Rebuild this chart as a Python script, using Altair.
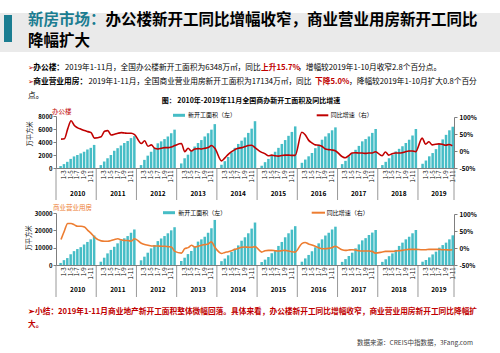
import altair as alt
import pandas as pd

FONT = "Noto Sans CJK SC"
TEAL = "#46BDC6"
RED = "#C00000"
ORANGE = "#ED7D31"
TITLE_TEAL = "#1B7D91"
AXIS_GREY = "#7F7F7F"

years = list(range(2010, 2020))
shown_ticks = ["1-3", "1-5", "1-7", "1-9", "1-11"]

# office new-start area, cumulative (万平方米): 1-2 ... 1-12 per year, 2019 to 1-11
office_area = [
    300, 600, 950, 1400, 1780, 2000, 2250, 2500, 2850, 3100, 3550,      # 2010
    450, 1000, 1500, 2000, 2650, 3050, 3450, 3850, 4150, 4600, 4900,    # 2011
    450, 1250, 1900, 2500, 3050, 3800, 4100, 4450, 4850, 5350, 5900,    # 2012
    700, 1500, 2050, 2600, 3300, 3850, 4300, 4850, 5350, 5900, 6750,    # 2013
    500, 1050, 1700, 2400, 3100, 3700, 4200, 4700, 5400, 6050, 7200,    # 2014
    350, 900, 1400, 1900, 2500, 3100, 3700, 4300, 4950, 5550, 6400,     # 2015
    800, 1300, 1800, 2300, 3050, 3600, 4350, 4850, 5350, 5800, 6250,    # 2016
    600, 1100, 1800, 2300, 2800, 3400, 4100, 4450, 4850, 5400, 6000,    # 2017
    450, 950, 1500, 2050, 2550, 2950, 3350, 3850, 4350, 5000, 6000,     # 2018
    650, 1150, 1800, 2300, 2900, 3700, 4400, 5100, 5800, 6348,          # 2019
]
# office YoY growth (%)
office_pct = [
    35, 36, 65, 89, 75, 68, 64, 60, 57, 54, 38,
    42, 58, 60, 47, 49, 52, 54, 53, 52, 52, 48,
    22, 30, 14, 18, 8, 6, 8, 10, 10, 12, 16,
    22, -2, 8, 0, 6, 7, 6, 8, 10, 16, 8,
    -29, -20, -10, -2, 4, 8, 10, 13, 16, 17, 10,
    -4, -8, -14, -12, -14, -15, -13, -12, -12, -13, -13,
    55, 48, 32, 24, 18, 17, 14, 6, 4, 3, 1,
    -16, -20, -14, -6, -5, -6, -6, -7, -6, -6, -2,
    -14, -3, -12, -8, -6, -6, -5, -2, 0, 0, -2,
    38, 20, 27, 18, 20, 21, 20, 17, 19, 15.7,
]
# commercial (商业营业用房) new-start area, cumulative (万平方米)
commercial_area = [
    1200, 2800, 4000, 6200, 8000, 9200, 10300, 11800, 13300, 14800, 17000,
    1900, 4200, 6700, 8700, 10500, 12500, 14300, 15400, 16700, 18600, 20500,
    2700, 4800, 7100, 9600, 11500, 13800, 15300, 16700, 18300, 20000, 21800,
    2300, 4200, 6300, 8100, 10500, 13500, 14800, 16300, 18600, 21200, 26000,
    2200, 3700, 5600, 7500, 9400, 11300, 14000, 16000, 18300, 21000, 24500,
    1700, 3100, 4600, 6800, 8500, 11000, 13300, 16000, 18300, 20400, 22400,
    1900, 3800, 5800, 8000, 10200, 12500, 14800, 17000, 18600, 20500, 22100,
    1800, 3400, 5200, 7100, 9600, 11900, 14200, 15500, 17300, 18700, 20200,
    1800, 3300, 5100, 6700, 8700, 11000, 12900, 14800, 16300, 18300, 20200,
    1900, 2900, 4400, 6100, 7700, 10000, 11500, 12900, 14800, 17134,
]
# commercial YoY growth (%)
commercial_pct = [
    25, 50, 72, 72, 68, 64, 64, 62, 52, 43, 32,
    21, 20, 20, 22, 25, 27, 24, 22, 22, 20, 27,
    14, 10, 8, 6, 6, 6, 5, 5, 4, 3, -10,
    -15, -2, 1, 8, 3, 5, 8, 10, 12, 18, 2,
    -16, -13, -11, -8, -4, -1, 2, 3, 2, 2, 4,
    -12, -8, -7, -7, -8, -9, -8, -7, -9, -11, -12,
    13, 16, 12, 9, 5, 1, -2, -2, -1, 1, 5,
    -5, -7, -6, -5, -6, -8, -9, -9, -9, -10, -15,
    -12, -10, -10, -10, -9, -8, -7, -5, -4, -4, -4,
    -5, -5, -4, -4, -4, -4, -5, -5, -6, -5.0,
]

# category slots: each year starts with an empty "1-1" slot
slots, data_slots = [], []
for y in years:
    last = 12 if y < 2019 else 11
    for m in range(1, last + 1):
        slots.append(f"{y}|1-{m}")
        if m >= 2:
            data_slots.append(f"{y}|1-{m}")

df = pd.DataFrame({
    "slot": data_slots,
    "idx": list(range(len(data_slots))),
    "office_area": office_area,
    "office_pct": office_pct,
    "commercial_area": commercial_area,
    "commercial_pct": commercial_pct,
})
sep_df = pd.DataFrame({"slot": [f"{y}|1-1" for y in years]})
end_df = pd.DataFrame({"slot": [slots[-1]]})
year_df = pd.DataFrame({"slot": [f"{y}|1-7" for y in years], "year": [str(y) for y in years]})
one = pd.DataFrame({"k": [0]})

L = 56  # plot origin (left padding)


def xs():
    return alt.Scale(domain=slots, paddingInner=0.25, paddingOuter=0)


tick_expr = ("indexof(['1-3','1-5','1-7','1-9','1-11'], split(datum.value,'|')[1]) >= 0"
             " ? split(datum.value,'|')[1] : ''")


def cat_axis(offset):
    return alt.Axis(orient="bottom", offset=offset, labelExpr=tick_expr, labelAngle=270,
                    labelFontSize=6, labelFont=FONT, ticks=False, domainColor=AXIS_GREY,
                    labelPadding=2, title=None, labelOverlap=False, labelColor="#000000",
                    labelBound=False, grid=False)


def left_axis(values):
    return alt.Axis(orient="left", values=values, format="d", title=None, labelFontSize=6,
                    labelFont=FONT, labelFontWeight="bold", grid=False, tickSize=3,
                    domainColor=AXIS_GREY, tickColor=AXIS_GREY, labelPadding=1,
                    labelFlush=False, labelColor="#000000")


def right_axis():
    return alt.Axis(orient="right", values=[-50, 0, 50, 100], labelExpr="datum.value + '%'",
                    title=None, labelFontSize=6.3, labelFont=FONT, labelFontWeight="bold",
                    grid=False, tickSize=3, domainColor=AXIS_GREY, tickColor=AXIS_GREY,
                    labelPadding=2, labelFlush=False, labelColor="#000000")


def txt(s, x, y, size, color="#000000", weight="normal", align="left", angle=0):
    return alt.Chart(one).mark_text(text=s, fontSize=size, font=FONT, color=color,
                                    fontWeight=weight, align=align, baseline="middle",
                                    angle=angle).encode(x=alt.value(x - L), y=alt.value(y))


def box(x1, x2, y1, y2, color):
    return alt.Chart(one).mark_rect(color=color).encode(
        x=alt.value(x1 - L), x2=alt.value(x2 - L), y=alt.value(y1), y2=alt.value(y2))


def seg(x1, x2, y, color, w):
    return alt.Chart(one).mark_rule(color=color, strokeWidth=w).encode(
        x=alt.value(x1 - L), x2=alt.value(x2 - L), y=alt.value(y))


base = alt.Chart(df)

# ---- top chart (office) ----
office_bars = base.mark_bar(color=TEAL).encode(
    x=alt.X("slot:N", scale=xs(), axis=cat_axis(-185)),
    y=alt.Y("office_area:Q", scale=alt.Scale(domain=[0, 8000], range=[168, 116], nice=False),
            axis=left_axis([0, 2000, 4000, 6000, 8000])),
)
office_line = base.mark_line(color=RED, strokeWidth=1.6, interpolate="monotone").encode(
    x=alt.X("slot:N", scale=xs(), axis=None),
    y=alt.Y("office_pct:Q", scale=alt.Scale(domain=[-50, 100], range=[168, 117], nice=False),
            axis=right_axis()),
    order=alt.Order("idx:Q"),
)
# ---- bottom chart (commercial) ----
com_bars = base.mark_bar(color=TEAL).encode(
    x=alt.X("slot:N", scale=xs(), axis=cat_axis(-88)),
    y=alt.Y("commercial_area:Q", scale=alt.Scale(domain=[0, 30000], range=[265, 213], nice=False),
            axis=left_axis([0, 10000, 20000, 30000])),
)
com_line = base.mark_line(color=ORANGE, strokeWidth=1.6, interpolate="monotone").encode(
    x=alt.X("slot:N", scale=xs(), axis=None),
    y=alt.Y("commercial_pct:Q", scale=alt.Scale(domain=[-50, 100], range=[265, 214], nice=False),
            axis=right_axis()),
    order=alt.Order("idx:Q"),
)


def separators(y1, y2):
    a = alt.Chart(sep_df).mark_rule(color=AXIS_GREY, strokeWidth=0.8).encode(
        x=alt.X("slot:N", scale=xs(), axis=None, bandPosition=0),
        y=alt.value(y1), y2=alt.value(y2))
    b = alt.Chart(end_df).mark_rule(color=AXIS_GREY, strokeWidth=0.8).encode(
        x=alt.X("slot:N", scale=xs(), axis=None, bandPosition=1),
        y=alt.value(y1), y2=alt.value(y2))
    return [a, b]


def year_labels(y):
    return alt.Chart(year_df).mark_text(fontSize=6.5, font=FONT, fontWeight="bold",
                                        baseline="middle", align="center", color="#000000").encode(
        x=alt.X("slot:N", scale=xs(), axis=None, bandPosition=0),
        y=alt.value(y), text="year:N")


BF = 7.7  # bullet font size
TF = 15.5  # title font size

layers = [
    box(0, 500, 13, 52, "#EAEAEA"),
    box(4, 12, 15, 42, TITLE_TEAL),
    txt("新房市场：", 28, 20, TF, TITLE_TEAL, "bold"),
    txt("办公楼新开工同比增幅收窄，商业营业用房新开工同比", 28 + 5 * TF, 20, TF, "#000000", "bold"),
    txt("降幅扩大", 28, 41, TF, "#000000", "bold"),
    # bullet 1
    txt("➢", 28, 68, 7, RED),
    txt("办公楼：", 33.3, 68, BF, "#000000", "bold"),
    txt("2019年1-11月，全国办公楼新开工面积为6348万㎡，同比", 65, 68, BF),
    txt("上升15.7%", 261, 68, BF, RED, "bold"),
    txt("，增幅较2019年1-10月收窄2.8个百分点。", 298, 68, BF),
    # bullet 2
    txt("➢", 28, 81.7, 7, RED),
    txt("商业营业用房：", 33.3, 81.7, BF, "#000000", "bold"),
    txt("2019年1-11月，全国商业营业用房新开工面积为17134万㎡，同比", 88.5, 81.7, BF),
    txt("下降5.0%", 315, 81.7, BF, RED, "bold"),
    txt("，降幅较2019年1-10月扩大0.8个百分", 349, 81.7, BF),
    txt("点。", 28, 95.5, BF),
    # chart title
    txt("图： 2010年-2019年11月全国商办新开工面积及同比增速", 251, 100.5, 7, "#000000", "bold", "center"),
    # top legend & labels
    box(173, 185, 113.8, 116.8, TEAL),
    txt("新开工面积（左）", 188, 115.3, 6),
    seg(316.7, 328.3, 115.3, RED, 2),
    txt("同比增速（右）", 330.7, 115.3, 6),
    txt("办公楼", 52, 111.5, 6.5, RED),
    txt("万平方米", 30, 134, 6.3, "#000000", "normal", "center", 270),
    # bottom legend & labels
    box(163, 175, 211.2, 214.2, TEAL),
    txt("新开工面积（左）", 178.3, 212.7, 6),
    seg(311.7, 325, 212.7, ORANGE, 2),
    txt("同比增速（右）", 326.7, 212.7, 6),
    txt("商业营业用房", 53, 207.5, 6.5, ORANGE),
    txt("万平方米", 29, 238, 6.3, "#000000", "normal", "center", 270),
    # charts
    office_bars, office_line, com_bars, com_line,
    *separators(168, 200), *separators(265, 297),
    year_labels(193.5), year_labels(290.3),
    # summary & source
    txt("➢小结：2019年1-11月商业地产新开工面积整体微幅回落。具体来看，办公楼新开工同比增幅收窄，商业营业用房新开工同比降幅扩",
        28, 311.5, BF, RED, "bold"),
    txt("大。", 28, 325, BF, RED, "bold"),
    txt("数据来源：CREIS中指数据，3Fang.com", 473, 343, 6.5, "#404040", "normal", "right"),
]

chart = alt.layer(*layers).resolve_scale(x="independent", y="independent").properties(
    width=398, height=353,
    padding={"left": L, "right": 46, "top": 0, "bottom": 0},
    autosize=alt.AutoSizeParams(type="none"),
    background="white",
).configure_view(strokeWidth=0)

chart.save("out.html", embed_options={"renderer": "svg", "actions": False})
